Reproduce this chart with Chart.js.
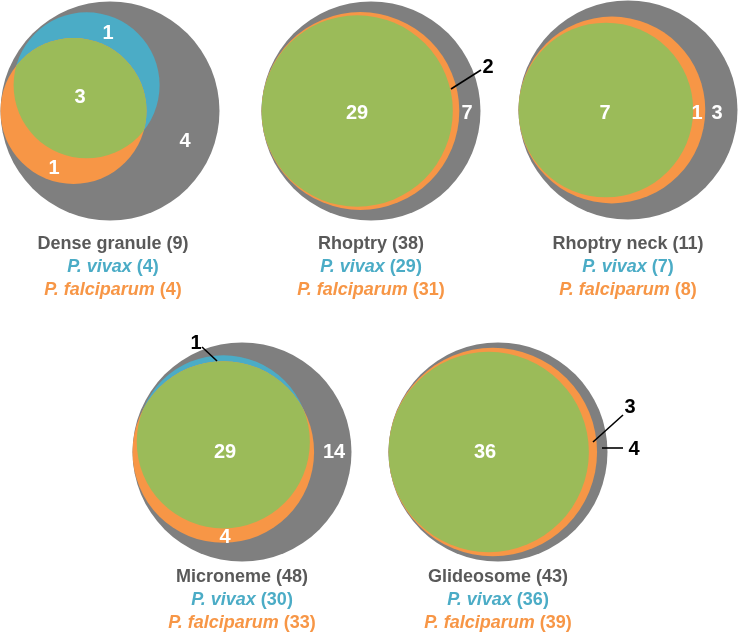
<!DOCTYPE html>
<html>
<head>
<meta charset="utf-8">
<script src="https://cdn.jsdelivr.net/npm/chart.js@4.4.0/dist/chart.umd.min.js"></script>
<style>
  body { margin: 0; background: #fff; }
  #wrap { width: 739px; height: 640px; }
</style>
</head>
<body>
<div id="wrap"><canvas id="venn"></canvas></div>
<script>
// protein counts per organelle
const organelles = ['Dense granule', 'Rhoptry', 'Rhoptry neck', 'Microneme', 'Glideosome'];
const totals = [9, 38, 11, 48, 43];
const vivax = [4, 29, 7, 30, 36];
const falciparum = [4, 31, 8, 33, 39];
const shared = [3, 29, 7, 29, 36];

// layout only: where each diagram sits and which way it is turned
const centers = [[110, 111], [371, 111], [628, 110], [242, 452], [498, 452]];
const outerR = 109.5;
const falcAngle = [180, 180, 180, 180, 180];   // where P. falciparum touches the outer circle
const vivaxAngle = [-63, 180, 180, -90, 180];  // from P. falciparum centre towards P. vivax centre
const titleY = [244, 244, 244, 577, 577];
const lineGap = 23;

// region label spots [shared, vivax only, falciparum only, neither]; callouts carry a leader line
const labelSpots = [
  [[80, 97], [108, 33], [54, 168], [185, 141]],
  [[357, 113], null, { text: [488, 67], line: [[451, 89], [481, 70]] }, [467, 113]],
  [[605, 113], null, [697, 113], [717, 113]],
  [[225, 452], { text: [196, 343], line: [[202, 347], [217, 361]] }, [225, 537], [334, 452]],
  [[485, 452], null, { text: [630, 407], line: [[623, 415], [593, 442]] }, { text: [634, 449], line: [[623, 448], [602, 448]] }]
];

const GRAY = '#7f7f7f', BLUE = '#4bacc6', ORANGE = '#f79646', GREEN = '#9bbb59', TEXT = '#595959';
const FONT = '"Liberation Sans", Arial, sans-serif';

// lens area of two circles, and the centre distance that gives a wanted overlap
function lens(r1, r2, d) {
  if (d >= r1 + r2) return 0;
  if (d <= Math.abs(r1 - r2)) return Math.PI * Math.min(r1, r2) ** 2;
  const a = r1 * r1 * Math.acos((d * d + r1 * r1 - r2 * r2) / (2 * d * r1));
  const b = r2 * r2 * Math.acos((d * d + r2 * r2 - r1 * r1) / (2 * d * r2));
  const c = 0.5 * Math.sqrt((-d + r1 + r2) * (d + r1 - r2) * (d - r1 + r2) * (d + r1 + r2));
  return a + b - c;
}
function centreDistance(r1, r2, area) {
  let lo = Math.abs(r1 - r2), hi = r1 + r2;
  if (area >= lens(r1, r2, lo) - 1e-9) return lo;
  for (let i = 0; i < 60; i++) {
    const mid = (lo + hi) / 2;
    if (lens(r1, r2, mid) > area) lo = mid; else hi = mid;
  }
  return (lo + hi) / 2;
}

// circle areas proportional to counts, outer circle same size in each panel
const geo = organelles.map((name, i) => {
  const k = outerR / Math.sqrt(totals[i]);
  const rF = k * Math.sqrt(falciparum[i]);
  const rV = k * Math.sqrt(vivax[i]);
  const [cx, cy] = centers[i];
  const af = falcAngle[i] * Math.PI / 180;
  const fx = cx + (outerR - rF) * Math.cos(af);
  const fy = cy + (outerR - rF) * Math.sin(af);
  const d = centreDistance(rF, rV, shared[i] * Math.PI * k * k);
  const av = vivaxAngle[i] * Math.PI / 180;
  return {
    total: { x: cx, y: cy, r: outerR },
    falc: { x: fx, y: fy, r: rF },
    viv: { x: fx + d * Math.cos(av), y: fy + d * Math.sin(av), r: rV }
  };
});

// higher order is painted first: gray under blue under orange
const circles = (key, color, order) => ({
  data: geo.map(g => ({ x: g[key].x, y: g[key].y, r: g[key].r })),
  backgroundColor: color,
  borderWidth: 0,
  hoverRadius: 0,
  clip: false,
  order: order
});

// green = area inside both species circles
const overlapPlugin = {
  id: 'overlap',
  afterDatasetsDraw(chart) {
    const ctx = chart.ctx;
    const viv = chart.getDatasetMeta(1).data;
    const fal = chart.getDatasetMeta(2).data;
    viv.forEach((v, i) => {
      const f = fal[i];
      ctx.save();
      ctx.beginPath();
      ctx.arc(v.x, v.y, v.options.radius, 0, Math.PI * 2);
      ctx.clip();
      ctx.beginPath();
      ctx.arc(f.x, f.y, f.options.radius, 0, Math.PI * 2);
      ctx.fillStyle = GREEN;
      ctx.fill();
      ctx.restore();
    });
  }
};

function mixedLine(ctx, x, y, italicPart, plainPart, color) {
  const fi = 'italic bold 18px ' + FONT, fp = 'bold 18px ' + FONT;
  ctx.font = fi;
  const w1 = ctx.measureText(italicPart).width;
  ctx.font = fp;
  const w2 = ctx.measureText(plainPart).width;
  let sx = x - (w1 + w2) / 2;
  ctx.fillStyle = color;
  ctx.textAlign = 'left';
  ctx.font = fi;
  ctx.fillText(italicPart, sx, y);
  ctx.font = fp;
  ctx.fillText(plainPart, sx + w1, y);
}

const textPlugin = {
  id: 'texts',
  afterDraw(chart) {
    const ctx = chart.ctx;
    const xs = chart.scales.x, ys = chart.scales.y;
    ctx.save();
    ctx.textBaseline = 'middle';
    organelles.forEach((name, i) => {
      const counts = [shared[i], vivax[i] - shared[i], falciparum[i] - shared[i],
        totals[i] - (vivax[i] + falciparum[i] - shared[i])];
      counts.forEach((n, j) => {
        const spot = labelSpots[i][j];
        if (!spot || n === 0) return;
        ctx.font = 'bold 20px ' + FONT;
        ctx.textAlign = 'center';
        if (Array.isArray(spot)) {
          ctx.fillStyle = '#ffffff';
          ctx.fillText(String(n), xs.getPixelForValue(spot[0]), ys.getPixelForValue(spot[1]));
        } else {
          ctx.strokeStyle = '#000000';
          ctx.lineWidth = 1.6;
          ctx.beginPath();
          ctx.moveTo(xs.getPixelForValue(spot.line[0][0]), ys.getPixelForValue(spot.line[0][1]));
          ctx.lineTo(xs.getPixelForValue(spot.line[1][0]), ys.getPixelForValue(spot.line[1][1]));
          ctx.stroke();
          ctx.fillStyle = '#000000';
          ctx.fillText(String(n), xs.getPixelForValue(spot.text[0]), ys.getPixelForValue(spot.text[1]));
        }
      });
      const tx = xs.getPixelForValue(centers[i][0] + (i === 0 ? 3 : 0));
      const ty = ys.getPixelForValue(titleY[i]);
      ctx.font = 'bold 18px ' + FONT;
      ctx.textAlign = 'center';
      ctx.fillStyle = TEXT;
      ctx.fillText(name + ' (' + totals[i] + ')', tx, ty);
      mixedLine(ctx, tx, ty + lineGap, 'P. vivax', ' (' + vivax[i] + ')', BLUE);
      mixedLine(ctx, tx, ty + 2 * lineGap, 'P. falciparum', ' (' + falciparum[i] + ')', ORANGE);
    });
    ctx.restore();
  }
};

new Chart(document.getElementById('venn'), {
  type: 'bubble',
  data: {
    datasets: [circles('total', GRAY, 3), circles('viv', BLUE, 2), circles('falc', ORANGE, 1)]
  },
  options: {
    responsive: true,
    maintainAspectRatio: false,
    animation: false,
    events: [],
    layout: { padding: 0, autoPadding: false },
    scales: {
      x: { type: 'linear', min: 0, max: 739, display: false },
      y: { type: 'linear', min: 0, max: 640, reverse: true, display: false }
    },
    plugins: { legend: { display: false }, tooltip: { enabled: false } }
  },
  plugins: [overlapPlugin, textPlugin]
});
</script>
</body>
</html>
